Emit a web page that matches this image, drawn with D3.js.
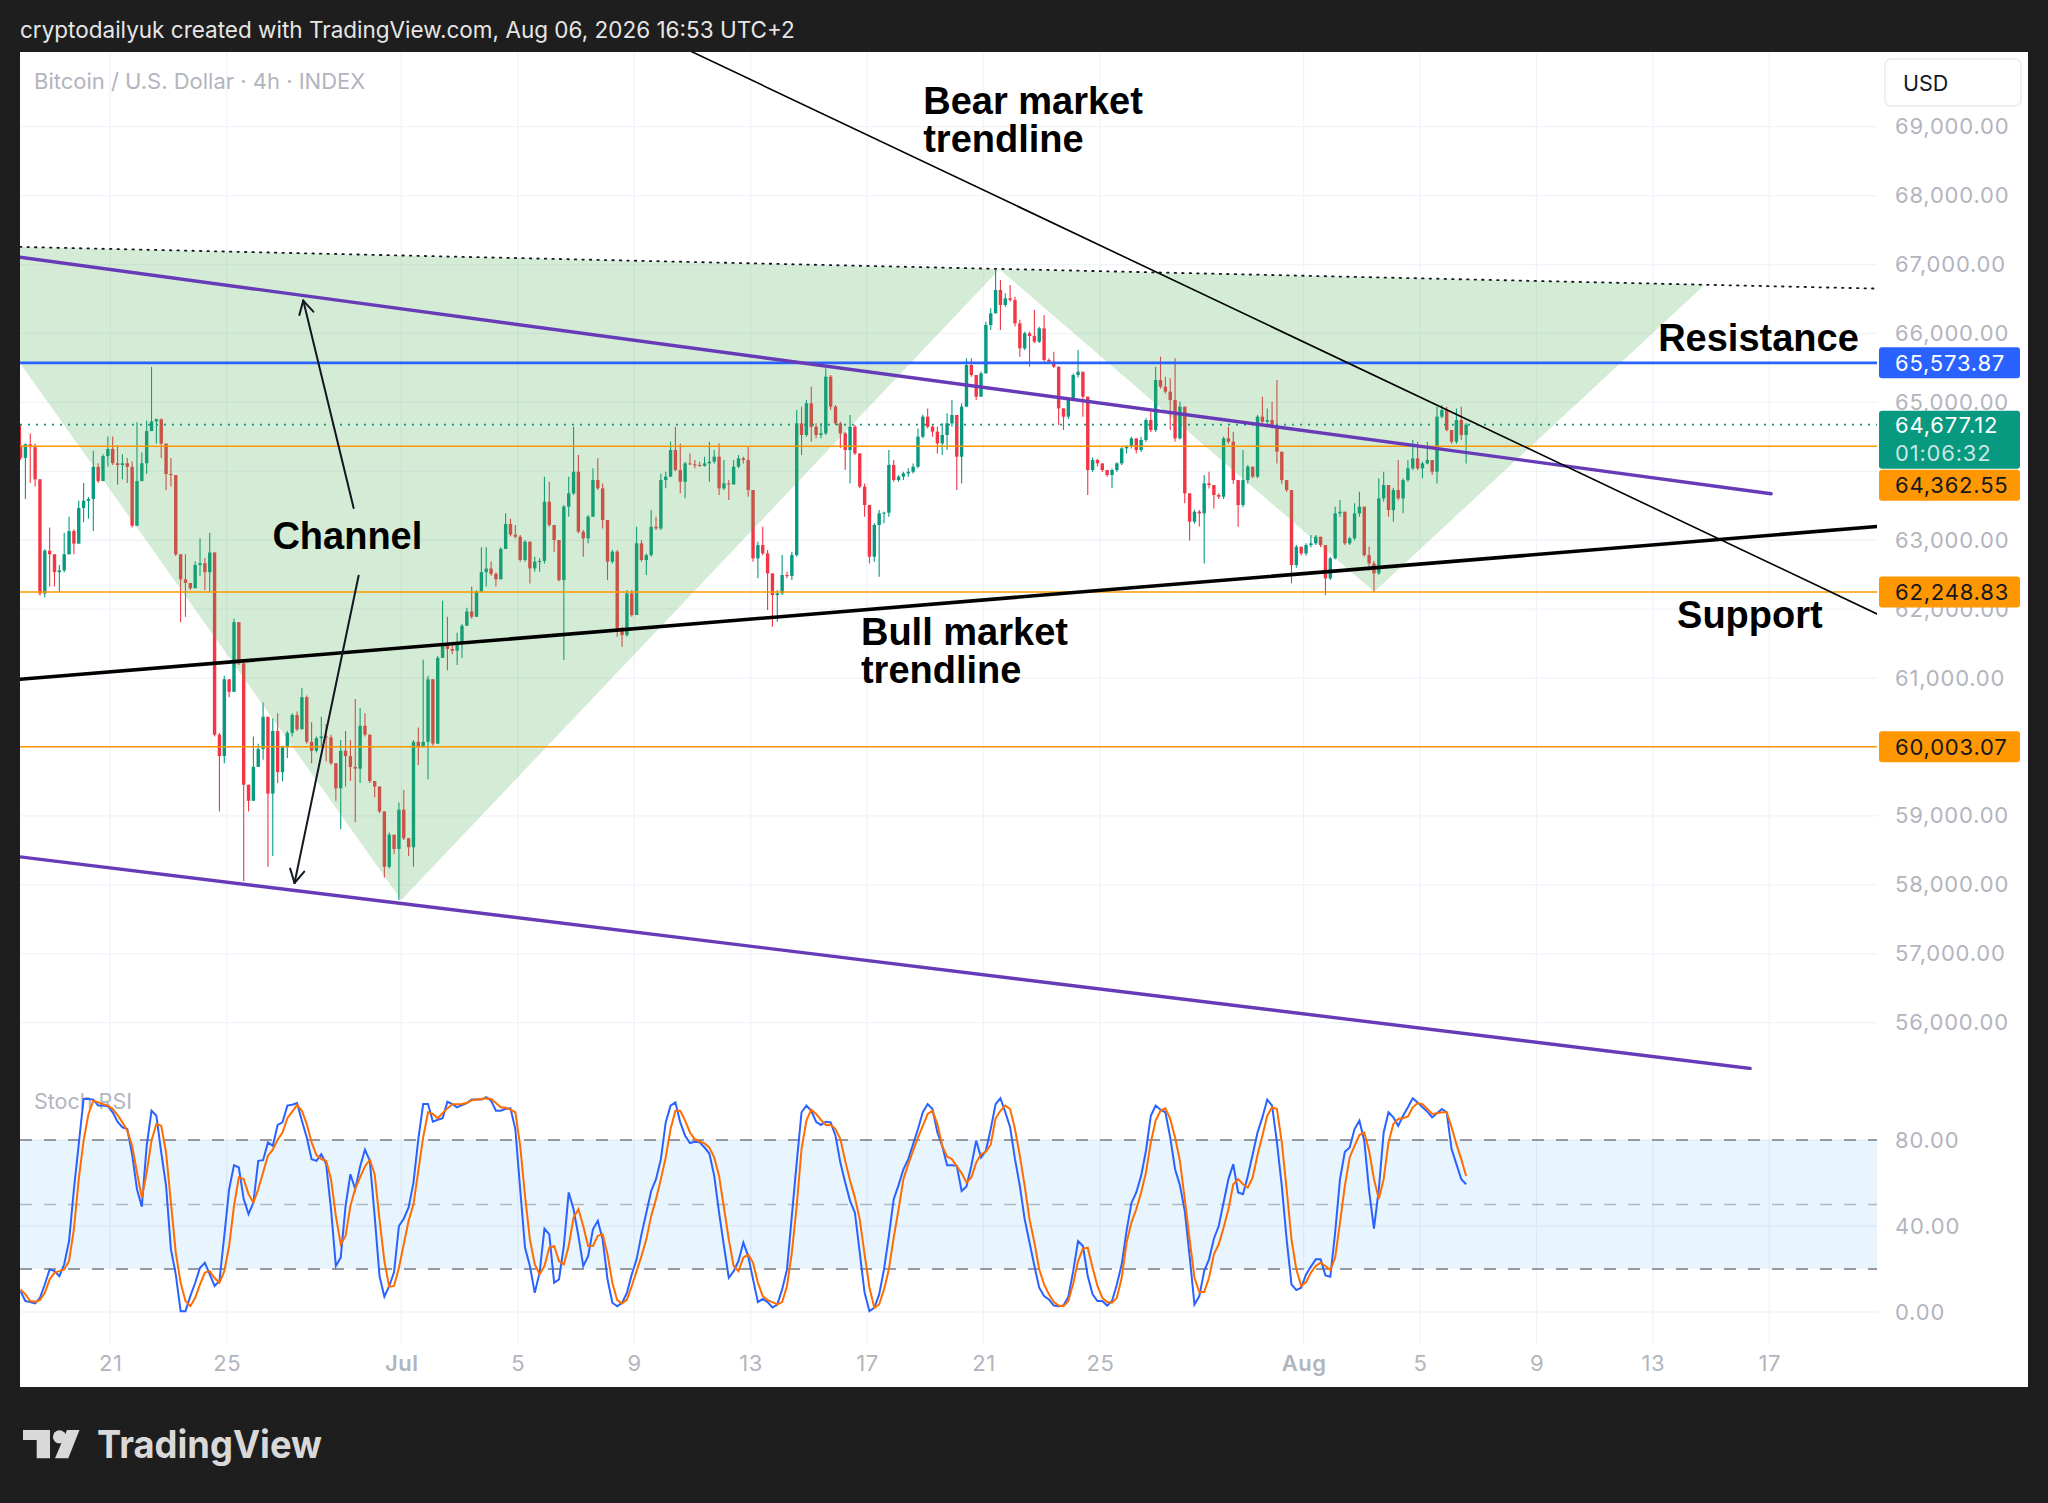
<!DOCTYPE html>
<html>
<head>
<meta charset="utf-8">
<script src="https://cdn.jsdelivr.net/npm/d3@7"></script>
<style>
html, body { margin: 0; padding: 0; background: #1e1e1e; overflow: hidden; }
svg { display: block; }
</style>
</head>
<body>
<div id="chart"></div>
<script>
// ---- data: BTC/USD 4h bars (open of each bar = previous close) ----
const firstBar = "2026-06-17T22:00:00Z";
const barHours = 4;
const firstOpen = 64376;

const closes = [
  64195,64392,64350,63884,62226,62848,62796,62537,62563,62796,
  63133,62951,63469,63573,63599,64065,63858,64221,64324,64117,
  64091,64117,64065,63210,63858,64117,64584,64724,64755,64402,
  63962,63946,62796,62433,62381,62304,62640,62666,62537,62822,
  60179,59868,60982,60801,61811,61215,59453,59220,59712,59971,
  60438,59324,60231,59635,59997,60205,60464,60257,60723,60075,
  59946,60127,60153,60140,59764,59401,59946,59868,59712,59686,
  60308,60179,59505,59427,59065,58262,58728,58521,59090,58676,
  58546,60075,59997,60075,60982,60049,61293,61500,61423,61397,
  61500,61759,61967,61889,62252,62537,62589,62511,62433,62874,
  63236,63081,63051,62713,62979,62592,62689,62700,63559,63221,
  63003,62422,63487,63680,63994,63124,63027,63341,63873,63753,
  63293,62689,62834,61697,61624,62229,61914,62955,62713,62785,
  63196,63172,63873,63922,64309,64019,63849,64115,64100,64091,
  64080,64115,64140,64212,63753,63825,63810,64067,64188,64164,
  63728,62737,62930,62809,62519,62205,62229,62495,62480,62785,
  64696,64527,64986,64647,64527,64551,65373,64938,64696,64551,
  64309,64647,64260,63777,63511,62761,63221,63390,63400,64091,
  63873,63922,63970,63994,64067,64502,64793,64647,64575,64405,
  64527,64696,64817,64212,64938,65542,65397,65083,65421,66123,
  66292,66631,66413,66510,66485,66147,65784,66002,65963,65881,
  66074,65615,65591,65518,64913,64793,65059,65397,65445,65083,
  64019,64164,64115,64019,63946,64019,64115,64333,64357,64478,
  64309,64454,64744,64599,65325,65228,65156,65034,64478,64938,
  63680,63269,63414,63390,63825,63801,63656,63632,64478,64430,
  63873,63511,63873,64067,63922,64793,64720,64744,64647,64285,
  63873,63728,62640,62906,62809,62930,62955,63051,62930,62447,
  62737,63390,63414,62955,63027,63390,63487,62785,62664,62519,
  63607,63801,63438,63728,63607,63873,64043,64188,64043,64115,
  64164,63994,64793,64889,64599,64430,64744,64527,64677
];

const highs = [
  64687,64402,64547,64402,63884,62874,63184,62796,62640,63107,
  63340,63159,63573,63832,63625,64299,64117,64247,64506,64506,
  64376,64247,64195,64143,64713,64273,64739,65516,64765,64765,
  64402,64195,63946,62796,62796,62381,62692,63029,62744,63107,
  62822,60205,61034,60982,61863,61811,61215,59453,60153,60049,
  60645,60438,60412,60490,60020,60231,60490,60516,60853,60749,
  60360,60153,60438,60334,60179,59764,60101,60231,60101,60697,
  60567,60490,60179,59505,59427,59065,58760,58728,59194,59376,
  58676,60100,60283,61267,61034,60982,61320,62122,61889,61500,
  61656,61785,62019,62329,62278,62900,62900,62692,62537,62900,
  63392,63314,63221,63075,63003,62979,62761,62737,63922,63849,
  63221,63003,63510,63922,64647,64236,63148,63365,64043,64188,
  63825,63293,62858,62858,61745,62277,62277,63196,63003,62809,
  63438,63341,63970,63994,64430,64647,64405,64140,64260,64164,
  64140,64212,64430,64309,64405,64164,63873,64164,64236,64212,
  64357,63728,62979,63196,62858,62519,62277,62785,62543,62834,
  64889,64938,65034,65228,64696,64696,65494,65397,64962,64720,
  64575,64817,64672,64260,63825,63511,63245,63438,63414,64309,
  64164,63946,63994,64043,64115,64623,64820,64913,64672,64647,
  64696,64841,65034,64817,64986,65639,65639,65397,65445,66171,
  66365,66921,66776,66582,66703,66534,66200,66026,66026,66340,
  66098,66268,65639,65736,65518,64913,65080,65420,65760,65445,
  65083,64200,64180,64115,64019,64040,64130,64350,64380,64500,
  64478,64500,64770,64865,65518,65663,65373,65349,65639,65010,
  64938,63680,63440,63440,63946,63994,63801,63680,64500,64647,
  64575,63873,64309,64090,64067,64817,65083,64913,65010,65325,
  64285,63873,63728,62930,62906,62955,63075,63075,63051,62930,
  62760,63487,63583,63414,63050,63535,63704,63487,62906,62700,
  63898,63994,63801,63760,64164,63900,64164,64454,64430,64140,
  64430,64164,64938,64962,64938,64599,64913,64938,64700
];

const lows = [
  64169,63599,63832,63780,62200,62174,62329,62329,62252,62537,
  62796,62796,62951,63262,63314,63133,63832,63858,64065,64091,
  63806,63884,63832,63184,63210,63858,63962,64584,64402,64195,
  63729,63780,62770,61811,61889,62278,62304,62485,62278,62252,
  60153,59065,59764,60723,60801,61189,58054,59065,59220,59712,
  59816,58262,58417,59479,59505,59842,60153,60231,60257,60049,
  59764,59920,59997,59790,59738,59220,58806,59427,59505,58909,
  59479,60153,59479,59272,59039,58106,58236,58443,57780,58650,
  58417,58262,59738,59997,59531,60023,60049,61293,61112,61345,
  61189,61293,61759,61863,61889,62252,62329,62485,62329,62433,
  62874,63055,63027,62689,62689,62374,62543,62543,62664,63196,
  62834,62400,61262,63341,63656,63100,62761,62955,63341,63728,
  63172,62422,62664,61600,61455,61600,61890,61914,62689,62495,
  62761,63148,63148,63753,63922,64000,63680,63608,64091,64043,
  64067,64067,63849,64115,63656,63728,63583,63810,64043,64115,
  63632,62689,62447,62785,61987,61745,61818,62205,62447,62422,
  62761,64236,64502,64430,64478,64478,64527,64889,64672,64333,
  64019,63825,64236,63753,63341,62664,62689,62471,63245,63341,
  63849,63849,63873,63922,63970,64043,64478,64623,64502,64260,
  64236,64309,64647,63728,63825,64938,65373,65034,65083,65421,
  66050,66292,66050,66389,66460,66100,65663,65760,65518,65860,
  65860,65590,65560,65500,64672,64599,64760,65030,65360,64793,
  63656,63990,64070,63990,63920,63753,63990,64090,64260,64330,
  64260,64280,64430,64570,64570,65200,65130,64600,64430,64460,
  63535,62995,63240,63200,62664,63750,63462,63600,63600,64400,
  63820,63196,63480,63820,63900,63900,64700,64690,64620,64115,
  63820,63700,62374,62600,62780,62780,62900,62930,62900,62205,
  62422,62720,63340,62930,62930,63000,63340,62760,62560,62253,
  62500,63560,63341,63269,63580,63390,63850,64020,64020,63898,
  64100,63946,63825,64770,64580,64400,64400,64454,64115
];

// Stoch RSI %K (blue) and %D (orange), one value per bar
const stochK = [
  9.7,5.1,4.6,4.0,6.6,12.8,19.8,19.0,16.7,22.2,
  33.0,57.1,78.1,99.1,99.1,98.8,96.0,96.0,95.7,92.9,
  88.5,85.9,85.1,73.4,57.1,49.0,77.3,93.6,91.3,74.2,
  58.7,29.1,17.5,0.4,0.4,7.4,13.6,20.6,22.9,17.5,
  12.1,14.4,35.4,57.1,68.3,67.2,52.5,45.5,50.9,70.3,
  70.6,78.9,77.3,87.0,88.2,96.0,96.4,97.2,89.0,81.2,
  71.1,70.3,73.4,68.8,47.8,21.4,25.3,49.3,64.1,57.1,
  67.7,75.5,70.3,44.7,16.7,7.1,12.1,18.6,40.0,43.4,
  48.6,60.2,80.4,96.7,96.7,88.5,89.4,90.1,97.8,96.7,
  95.2,96.3,97.2,98.8,98.8,98.8,99.9,98.3,93.6,93.6,
  94.5,94.7,85.1,57.1,29.9,21.4,8.9,18.3,38.8,36.1,
  13.6,15.2,30.7,55.6,47.8,35.4,21.4,26.0,38.5,42.4,
  33.8,15.2,4.3,2.7,4.3,8.9,17.5,24.5,36.1,46.2,
  56.3,61.8,71.1,88.2,96.0,97.5,88.2,82.0,78.6,79.2,
  78.9,76.5,73.7,63.3,46.2,30.7,15.9,19.0,23.7,32.3,
  26.0,15.2,4.6,6.1,4.6,2.1,3.5,10.5,19.8,44.7,
  69.5,92.9,96.0,93.6,88.5,87.0,88.5,88.2,82.0,69.5,
  60.2,51.7,46.2,27.6,8.9,0.4,1.9,8.2,19.8,35.4,
  52.5,59.0,66.4,71.1,78.1,85.1,92.9,96.7,94.4,83.5,
  77.3,68.3,68.3,68.0,56.3,58.4,68.0,79.7,71.9,75.0,
  85.1,96.7,99.4,92.9,85.9,71.1,58.7,43.1,32.3,21.4,
  11.3,7.4,5.8,3.0,2.7,3.0,7.1,19.0,33.0,30.7,
  16.7,8.2,5.1,5.1,3.0,5.1,12.8,22.2,37.7,50.6,
  55.6,63.3,75.0,91.3,96.0,94.1,92.9,81.2,66.4,59.0,
  47.0,26.0,3.5,7.4,19.0,24.5,34.1,40.0,50.9,61.8,
  68.8,55.6,54.8,63.3,73.4,83.5,90.5,98.8,96.0,78.9,
  58.7,33.8,12.8,10.2,11.3,17.5,21.1,24.5,24.5,17.0,
  16.4,36.9,61.8,74.5,76.5,85.1,89.0,79.7,56.3,38.8,
  57.1,83.5,92.9,90.5,86.6,91.3,95.2,99.4,97.5,95.2,
  93.2,90.5,92.4,94.4,92.9,75.8,68.8,61.8,59.4
];

const stochD = [
  10.5,8.2,5.1,4.8,5.5,8.9,15.2,18.3,19.0,19.8,
  23.7,38.5,61.8,79.7,92.1,98.3,97.5,96.7,96.0,94.4,
  91.6,88.2,84.3,77.3,64.9,53.2,64.9,79.7,87.4,86.6,
  74.2,50.9,27.6,13.6,5.1,2.7,6.6,12.8,18.3,19.0,
  15.8,13.6,19.0,30.7,49.3,62.6,61.8,54.8,50.9,57.1,
  64.9,72.7,75.5,80.1,83.5,90.1,93.2,96.3,93.6,87.4,
  78.9,73.0,71.1,70.3,61.8,44.7,31.5,35.4,49.3,57.4,
  62.6,67.7,70.8,64.1,43.1,23.7,11.7,12.1,20.6,31.5,
  42.4,50.1,65.7,81.2,92.9,92.1,90.1,92.5,94.7,96.6,
  96.6,96.7,97.2,98.5,98.8,99.1,99.4,99.1,97.2,95.2,
  95.0,94.1,92.9,77.3,54.0,33.8,22.2,17.5,21.4,29.9,
  30.7,23.7,22.2,30.7,43.9,47.8,40.0,30.7,30.7,35.4,
  36.1,26.8,13.6,5.5,4.0,5.8,12.1,19.0,26.0,33.8,
  44.7,52.5,61.8,71.9,85.1,93.6,93.6,89.0,83.5,80.4,
  79.3,78.4,76.5,71.9,63.3,48.6,33.8,21.4,19.0,25.3,
  26.8,22.9,13.6,7.4,5.5,4.6,3.5,4.6,12.1,27.6,
  49.3,75.8,89.0,94.1,92.1,89.4,87.0,87.1,85.1,80.4,
  70.3,61.0,53.2,43.1,26.8,11.3,1.9,3.5,10.5,19.8,
  34.6,47.8,61.8,68.8,75.0,81.2,86.6,92.1,93.6,87.4,
  77.3,72.3,71.1,67.7,64.6,60.2,62.6,69.5,73.4,74.5,
  77.8,90.1,93.6,96.0,94.4,85.1,72.7,58.7,43.1,32.3,
  19.8,12.8,8.2,4.6,3.0,2.7,5.1,13.3,23.7,29.5,
  29.9,20.6,12.1,6.6,4.6,4.3,6.6,15.9,32.3,41.6,
  47.8,55.6,64.9,78.9,89.0,93.6,94.7,89.8,81.2,70.3,
  52.5,33.8,15.9,9.3,9.3,15.9,26.8,31.5,39.2,47.8,
  59.4,61.8,59.4,57.9,62.6,73.0,82.0,91.3,95.2,94.4,
  78.9,57.1,33.8,19.8,12.1,13.9,18.3,21.4,22.9,21.4,
  19.5,25.3,41.6,58.7,71.9,77.3,82.3,83.5,75.0,61.8,
  52.5,61.8,78.9,87.4,89.8,90.1,91.0,95.2,97.2,96.7,
  94.4,92.1,92.4,92.9,92.9,85.9,78.1,71.1,63.3
];

const priceTicks = [56000,57000,58000,59000,60000,61000,62000,63000,64000,65000,66000,67000,68000,69000];
const rsiTicks = [0, 40, 80];
const rsiLevels = [80, 50, 20];
const dateTicks = ["2026-06-21","2026-06-25","2026-07-01","2026-07-05","2026-07-09","2026-07-13","2026-07-17",
                   "2026-07-21","2026-07-25","2026-08-01","2026-08-05","2026-08-09","2026-08-13","2026-08-17"];
const dateLabels = ["21","25","Jul","5","9","13","17","21","25","Aug","5","9","13","17"];

const lastPrice = 64677.12;
const countdown = "01:06:32";
const resistance = 65573.87;
const orangeLevels = [64362.55, 62248.83, 60003.07];

// drawings (time, price)
const topDotted   = [["2026-06-17T21:30Z", 67256], ["2026-08-20T16:48Z", 66651]];
const bearLine    = [["2026-07-10T00:00Z", 70284], ["2026-08-20T16:48Z", 61931]];
const bullLine    = [["2026-06-17T21:30Z", 60983], ["2026-08-20T16:48Z", 63200]];
const channelTop  = [["2026-06-17T21:30Z", 67105], ["2026-08-17T01:30Z", 63675]];
const channelLow  = [["2026-06-17T21:30Z", 58406], ["2026-08-16T08:10Z", 55336]];
const triangleA   = [["2026-06-17T21:30Z", 67256], ["2026-06-17T21:30Z", 65574], ["2026-07-01T00:00Z", 57780], ["2026-07-21T13:12Z", 66930]];
const triangleB   = [["2026-07-21T13:12Z", 66930], ["2026-08-03T10:19Z", 62253], ["2026-08-14T18:43Z", 66707]];
const arrowUp     = [["2026-06-29T08:40Z", 63469], ["2026-06-27T15:07Z", 66477]];
const arrowDown   = [["2026-06-29T12:45Z", 62485], ["2026-06-27T07:55Z", 58027]];
const notes = [
  {time: "2026-07-18T22:20Z", price: 69190, lines: ["Bear market", "trendline"]},
  {time: "2026-06-26T13:40Z", price: 62880, lines: ["Channel"]},
  {time: "2026-07-16T19:00Z", price: 61479, lines: ["Bull market", "trendline"]},
  {time: "2026-08-13T04:20Z", price: 65750, lines: ["Resistance"]},
  {time: "2026-08-13T19:55Z", price: 61726, lines: ["Support"]}
];

// ---- layout ----
const W = 2048, H = 1503;
const plotL = 20, plotR = 1877;
const paneTop = 52, paneBot = 1070;
const rsiTop = 1072, rsiBot = 1345;
const uiFont = "Inter, Roboto, sans-serif";
const grey = "#b2b5be";
const up = "#089981", down = "#f23645";

const x = d3.scaleUtc()
  .domain([new Date("2026-06-17T21:33:00Z"), new Date("2026-08-20T16:48:00Z")])
  .range([plotL, plotR]);
const y = d3.scaleLinear().domain([56000, 69000]).range([1022.7, 126.7]);
const ry = d3.scaleLinear().domain([0, 80]).range([1312, 1140]);

const t0 = new Date(firstBar).getTime();
const bars = closes.map((c, i) => {
  const open = i === 0 ? firstOpen : closes[i - 1];
  return {
    time: new Date(t0 + i * barHours * 3600e3),
    open, close: c,
    high: Math.max(highs[i], open, c),
    low: Math.min(lows[i], open, c),
    k: stochK[i], d: stochD[i]
  };
});

const svg = d3.select("#chart").append("svg").attr("width", W).attr("height", H);
svg.append("rect").attr("width", W).attr("height", H).attr("fill", "#1e1e1e");

// header
svg.append("text")
  .attr("x", 20).attr("y", 30).attr("dy", "0.35em")
  .attr("font-family", uiFont).attr("font-size", 22.5)
  .attr("fill", "#e6e6e6")
  .text("cryptodailyuk created with TradingView.com, Aug 06, 2026 16:53 UTC+2");

// white chart frame
svg.append("rect").attr("x", 20).attr("y", 52).attr("width", 2008).attr("height", 1335).attr("fill", "#ffffff");

const defs = svg.append("defs");
defs.append("clipPath").attr("id", "pclip").append("rect")
  .attr("x", plotL).attr("y", paneTop).attr("width", plotR - plotL).attr("height", paneBot - paneTop);
defs.append("clipPath").attr("id", "rclip").append("rect")
  .attr("x", plotL).attr("y", rsiTop).attr("width", plotR - plotL).attr("height", rsiBot - rsiTop);

const dates = dateTicks.map(d => new Date(d + "T00:00:00Z"));

// vertical grid (both panes)
svg.append("g").selectAll("line").data(dates).join("line")
  .attr("x1", d => x(d)).attr("x2", d => x(d))
  .attr("y1", paneTop).attr("y2", rsiBot)
  .attr("stroke", "#f0f3fa").attr("stroke-width", 1.3);

// ---- price pane ----
const pane = svg.append("g").attr("clip-path", "url(#pclip)");

pane.append("g").selectAll("line").data(priceTicks).join("line")
  .attr("x1", plotL).attr("x2", plotR)
  .attr("y1", d => y(d)).attr("y2", d => y(d))
  .attr("stroke", "#f0f3fa").attr("stroke-width", 1.3);

pane.append("text")
  .attr("x", 34).attr("y", 81).attr("dy", "0.35em")
  .attr("font-family", uiFont).attr("font-size", 22)
  .attr("fill", grey)
  .text("Bitcoin / U.S. Dollar · 4h · INDEX");

const candles = pane.append("g");
candles.selectAll("line").data(bars).join("line")
  .attr("x1", d => x(d.time)).attr("x2", d => x(d.time))
  .attr("y1", d => y(d.high)).attr("y2", d => y(d.low))
  .attr("stroke", d => d.close >= d.open ? up : down).attr("stroke-width", 1.1);
candles.selectAll("rect").data(bars).join("rect")
  .attr("x", d => x(d.time) - 1.7).attr("width", 3.4)
  .attr("y", d => y(Math.max(d.open, d.close)))
  .attr("height", d => Math.max(1, Math.abs(y(d.open) - y(d.close))))
  .attr("fill", d => d.close >= d.open ? up : down);

const pt = p => [x(new Date(p[0])), y(p[1])];

// triangle pattern fill over the bars
pane.append("g").selectAll("path").data([triangleA, triangleB]).join("path")
  .attr("d", d => "M" + d.map(pt).map(p => p.join(",")).join("L") + "Z")
  .attr("fill", "rgba(76,175,80,0.24)");

// horizontal levels
pane.append("g").selectAll("line").data(orangeLevels).join("line")
  .attr("x1", plotL).attr("x2", plotR)
  .attr("y1", d => y(d)).attr("y2", d => y(d))
  .attr("stroke", "#ff9800").attr("stroke-width", 1.5);
pane.append("line")
  .attr("x1", plotL).attr("x2", plotR).attr("y1", y(resistance)).attr("y2", y(resistance))
  .attr("stroke", "#2962ff").attr("stroke-width", 2.8);
pane.append("line")
  .attr("x1", plotL).attr("x2", plotR).attr("y1", y(lastPrice)).attr("y2", y(lastPrice))
  .attr("stroke", up).attr("stroke-width", 1.6).attr("stroke-dasharray", "2 6");

const seg = (g, p, color, w, dash) => g.append("line")
  .attr("x1", pt(p[0])[0]).attr("y1", pt(p[0])[1])
  .attr("x2", pt(p[1])[0]).attr("y2", pt(p[1])[1])
  .attr("stroke", color).attr("stroke-width", w)
  .attr("stroke-dasharray", dash || null).attr("stroke-linecap", "round");

seg(pane, topDotted, "#131722", 1.8, "1.5 6");
seg(pane, channelTop, "#673ab7", 3.4);
seg(pane, channelLow, "#673ab7", 3.4);
seg(pane, bullLine, "#000000", 3.6);
seg(pane, bearLine, "#000000", 1.6);

// arrows
[arrowUp, arrowDown].forEach(a => {
  const [x0, y0] = pt(a[0]), [x1, y1] = pt(a[1]);
  seg(pane, a, "#131722", 2);
  const ang = Math.atan2(y0 - y1, x0 - x1);
  [-0.5, 0.5].forEach(s => {
    pane.append("line")
      .attr("x1", x1).attr("y1", y1)
      .attr("x2", x1 + 15 * Math.cos(ang + s)).attr("y2", y1 + 15 * Math.sin(ang + s))
      .attr("stroke", "#131722").attr("stroke-width", 2).attr("stroke-linecap", "round");
  });
});

// annotation texts
notes.forEach(n => {
  const t = pane.append("text")
    .attr("font-family", "'Liberation Sans', Arial, sans-serif")
    .attr("font-weight", 700).attr("font-size", 38).attr("fill", "#000");
  n.lines.forEach((s, i) => t.append("tspan")
    .attr("x", x(new Date(n.time))).attr("y", y(n.price) + i * 38).text(s));
});

// ---- Stoch RSI pane ----
const rp = svg.append("g").attr("clip-path", "url(#rclip)");
rp.append("g").selectAll("line").data(rsiTicks).join("line")
  .attr("x1", plotL).attr("x2", plotR)
  .attr("y1", d => ry(d)).attr("y2", d => ry(d))
  .attr("stroke", "#f0f3fa").attr("stroke-width", 1.3);
rp.append("rect")
  .attr("x", plotL).attr("width", plotR - plotL)
  .attr("y", ry(80)).attr("height", ry(20) - ry(80))
  .attr("fill", "rgba(33,150,243,0.1)");
rp.append("g").selectAll("line").data(rsiLevels).join("line")
  .attr("x1", plotL).attr("x2", plotR)
  .attr("y1", d => ry(d)).attr("y2", d => ry(d))
  .attr("stroke", d => d === 50 ? "rgba(120,123,134,0.5)" : "#787b86")
  .attr("stroke-width", 1.6).attr("stroke-dasharray", "12 12");
rp.append("text")
  .attr("x", 34).attr("y", 1101).attr("dy", "0.35em")
  .attr("font-family", uiFont).attr("font-size", 21.5)
  .attr("fill", grey).text("Stoch RSI");

rp.append("path").datum(bars)
  .attr("d", d3.line().x(d => x(d.time)).y(d => ry(d.k)))
  .attr("fill", "none").attr("stroke", "#2962ff").attr("stroke-width", 2);
rp.append("path").datum(bars)
  .attr("d", d3.line().x(d => x(d.time)).y(d => ry(d.d)))
  .attr("fill", "none").attr("stroke", "#ff6d00").attr("stroke-width", 2);

// ---- price tags, stacked so they do not overlap ----
const tags = [
  {price: resistance, fill: "#2962ff", color: "#fff"},
  {price: lastPrice, fill: up, color: "#fff", sub: countdown},
  ...orangeLevels.map(p => ({price: p, fill: "#ff9800", color: "#131722"}))
].sort((a, b) => y(a.price) - y(b.price));
let lastBottom = -Infinity;
tags.forEach(t => {
  t.h = t.sub ? 58 : 31;
  t.top = t.sub ? y(t.price) - 14 : y(t.price) - 15.5;
  if (t.top < lastBottom + 1) t.top = lastBottom + 1;
  lastBottom = t.top + t.h;
});
// an axis label whose centre falls under a tag is hidden by it
const underTag = v => tags.some(t => y(v) >= t.top && y(v) <= t.top + t.h);

// ---- axes ----
const styleAxis = g => {
  g.select(".domain").remove();
  g.selectAll(".tick line").remove();
  g.selectAll("text").attr("font-family", uiFont).attr("font-size", 22)
    .attr("letter-spacing", "0.8px").attr("fill", grey);
};

svg.append("g").attr("transform", "translate(1895,0)")
  .call(d3.axisRight(y).tickValues(priceTicks.filter(v => !underTag(v)))
    .tickSize(0).tickPadding(0).tickFormat(d3.format(",.2f")))
  .call(styleAxis);
svg.append("g").attr("transform", "translate(1895,0)")
  .call(d3.axisRight(ry).tickValues(rsiTicks).tickSize(0).tickPadding(0).tickFormat(d3.format(".2f")))
  .call(styleAxis);

const gx = svg.append("g").attr("transform", "translate(0,1363)")
  .call(d3.axisBottom(x).tickValues(dates).tickSize(0).tickPadding(0).tickFormat((d, i) => dateLabels[i]))
  .call(styleAxis);
gx.selectAll("text").attr("y", 0).attr("dy", "0.35em").attr("letter-spacing", "0.5px")
  .attr("font-weight", (d, i) => isNaN(+dateLabels[i]) ? 600 : 400);

// currency box
svg.append("rect").attr("x", 1885).attr("y", 59).attr("width", 136).attr("height", 47).attr("rx", 6)
  .attr("fill", "#fff").attr("stroke", "#e8eaef").attr("stroke-width", 1.5);
svg.append("text").attr("x", 1903).attr("y", 83).attr("dy", "0.35em")
  .attr("font-family", uiFont).attr("font-size", 21.5).attr("fill", "#131722").text("USD");

tags.forEach(t => {
  svg.append("rect").attr("x", 1879).attr("y", t.top).attr("width", 141).attr("height", t.h).attr("rx", 3)
    .attr("fill", t.fill);
  const cy = t.sub ? t.top + 14 : t.top + 15.5;
  svg.append("text").attr("x", 1895).attr("y", cy).attr("dy", "0.36em")
    .attr("font-family", uiFont).attr("font-size", 22).attr("letter-spacing", "0.8px")
    .attr("fill", t.color).text(d3.format(",.2f")(t.price));
  if (t.sub) {
    svg.append("text").attr("x", 1895).attr("y", cy + 28).attr("dy", "0.36em")
      .attr("font-family", uiFont).attr("font-size", 22).attr("letter-spacing", "0.8px")
      .attr("fill", "rgba(255,255,255,0.78)").text(t.sub);
  }
});

// ---- TradingView logo ----
const logo = svg.append("g").attr("fill", "#d9d9d9");
logo.append("path").attr("d", "M23,1430H50V1458.3H36.7V1440H23Z");
logo.append("circle").attr("cx", 59.5).attr("cy", 1436.8).attr("r", 6.6);
logo.append("path").attr("d", "M67,1430H79.5L68.3,1458.3H55Z");
logo.append("text").attr("x", 97).attr("y", 1458.3)
  .attr("font-family", "Inter, 'Open Sans', sans-serif").attr("font-weight", 700).attr("font-size", 38.5)
  .attr("textLength", 225).attr("lengthAdjust", "spacingAndGlyphs")
  .text("TradingView");
</script>
</body>
</html>
